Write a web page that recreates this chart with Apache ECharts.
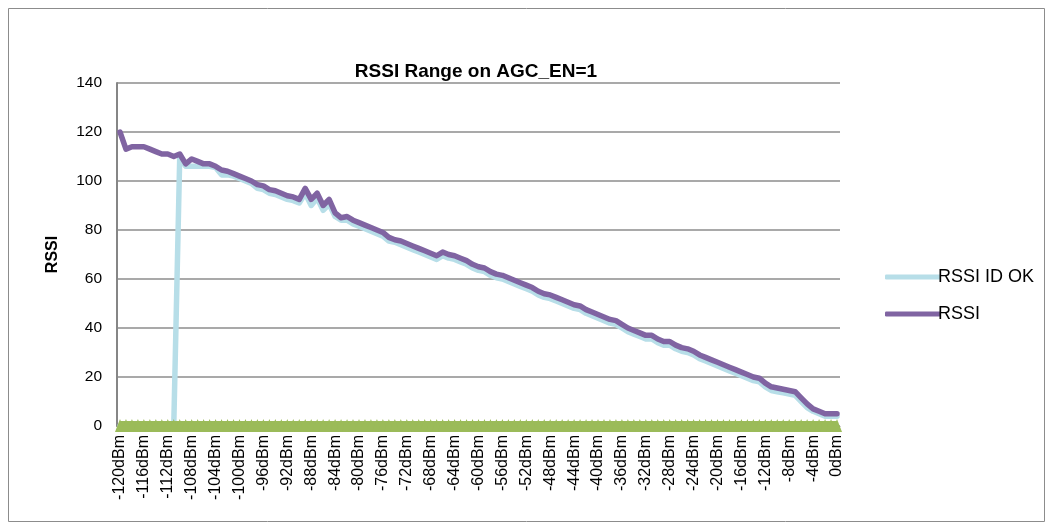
<!DOCTYPE html>
<html>
<head>
<meta charset="utf-8">
<script src="https://cdn.jsdelivr.net/npm/echarts@6/dist/echarts.min.js"></script>
<style>
  html, body { margin: 0; padding: 0; background: #ffffff; }
  #chart { width: 1051px; height: 529px; }
</style>
</head>
<body>
<div id="chart"></div>
<script>
const titleText = 'RSSI Range on AGC_EN=1';
const yAxisName = 'RSSI';
const seriesNames = ['RSSI ID OK', 'RSSI'];

const categories = [
  '-120dBm','-119dBm','-118dBm','-117dBm','-116dBm','-115dBm','-114dBm','-113dBm','-112dBm','-111dBm',
  '-110dBm','-109dBm','-108dBm','-107dBm','-106dBm','-105dBm','-104dBm','-103dBm','-102dBm','-101dBm',
  '-100dBm','-99dBm','-98dBm','-97dBm','-96dBm','-95dBm','-94dBm','-93dBm','-92dBm','-91dBm',
  '-90dBm','-89dBm','-88dBm','-87dBm','-86dBm','-85dBm','-84dBm','-83dBm','-82dBm','-81dBm',
  '-80dBm','-79dBm','-78dBm','-77dBm','-76dBm','-75dBm','-74dBm','-73dBm','-72dBm','-71dBm',
  '-70dBm','-69dBm','-68dBm','-67dBm','-66dBm','-65dBm','-64dBm','-63dBm','-62dBm','-61dBm',
  '-60dBm','-59dBm','-58dBm','-57dBm','-56dBm','-55dBm','-54dBm','-53dBm','-52dBm','-51dBm',
  '-50dBm','-49dBm','-48dBm','-47dBm','-46dBm','-45dBm','-44dBm','-43dBm','-42dBm','-41dBm',
  '-40dBm','-39dBm','-38dBm','-37dBm','-36dBm','-35dBm','-34dBm','-33dBm','-32dBm','-31dBm',
  '-30dBm','-29dBm','-28dBm','-27dBm','-26dBm','-25dBm','-24dBm','-23dBm','-22dBm','-21dBm',
  '-20dBm','-19dBm','-18dBm','-17dBm','-16dBm','-15dBm','-14dBm','-13dBm','-12dBm','-11dBm',
  '-10dBm','-9dBm','-8dBm','-7dBm','-6dBm','-5dBm','-4dBm','-3dBm','-2dBm','-1dBm',
  '0dBm'
];

const rssi = [
  120,113,114,114,114,113,112,111,111,110,
  111,107,109,108,107,107,106,104.5,104,103,
  102,101,100,98.5,98,96.5,96,95,94,93.5,
  92.5,97,92.5,95,90,92.5,87,85,85.5,84,
  83,82,81,80,79,77,76,75.5,74.5,73.5,
  72.5,71.5,70.5,69.5,71,70,69.5,68.5,67.5,66,
  65,64.5,63,62,61.5,60.5,59.5,58.5,57.5,56.5,
  55,54,53.5,52.5,51.5,50.5,49.5,49,47.5,46.5,
  45.5,44.5,43.5,43,41.5,40,39,38,37,37,
  35.5,34.5,34.5,33,32,31.5,30.5,29,28,27,
  26,25,24,23,22,21,20,19.5,17.5,16,
  15.5,15,14.5,14,11.5,9,7,6,5,5,
  5
];

const rssiIdOk = [
  0,0,0,0,0,0,0,0,0,0,
  110,106,106,106,106,106,105.5,102.5,102.5,102,
  101,100,99,97,96.5,95,94.5,93.5,92.5,92,
  91,95,90,93,88,90.5,85.5,84,84,82.5,
  81.5,80.5,79.5,78.5,77.5,75.5,75,74,73,72,
  71,70,69,68,69.5,68.5,68,67,66,64.5,
  63.5,63,61.5,60.5,60,59,58,57,56,55,
  53.5,52.5,52,51,50,49,48,47.5,46,45,
  44,43,42,41.5,40,38.5,37.5,36.5,35.5,35.5,
  34,33,33,31.5,30.5,30,29,27.5,26.5,25.5,
  24.5,23.5,22.5,21.5,20.5,19.5,18.5,18,16,14.5,
  14,13.5,13,12.5,10,7.5,6,5,4,4,
  4
];

const baseline = [
  0,0,0,0,0,0,0,0,0,0,
  0,0,0,0,0,0,0,0,0,0,
  0,0,0,0,0,0,0,0,0,0,
  0,0,0,0,0,0,0,0,0,0,
  0,0,0,0,0,0,0,0,0,0,
  0,0,0,0,0,0,0,0,0,0,
  0,0,0,0,0,0,0,0,0,0,
  0,0,0,0,0,0,0,0,0,0,
  0,0,0,0,0,0,0,0,0,0,
  0,0,0,0,0,0,0,0,0,0,
  0,0,0,0,0,0,0,0,0,0,
  0,0,0,0,0,0,0,0,0,0,
  0
];

const yMin = 0, yMax = 140, yInterval = 20;

const chart = echarts.init(document.getElementById('chart'), null, { renderer: 'canvas' });
const FONT = '"Liberation Sans", Arial, sans-serif';

chart.setOption({
  animation: false,
  backgroundColor: '#ffffff',
  textStyle: { fontFamily: FONT, color: '#000' },
  graphic: [{
    type: 'rect',
    shape: { x: 8.5, y: 8.5, width: 1036, height: 513 },
    style: { fill: 'none', stroke: '#8c8c8c', lineWidth: 1 },
    silent: true
  }],
  title: {
    text: titleText,
    left: 471, top: 57, textAlign: 'center',
    textStyle: { fontFamily: FONT, fontSize: 19, fontWeight: 'bold', color: '#000' }
  },
  legend: {
    data: seriesNames,
    orient: 'vertical',
    left: 880, top: 263,
    icon: 'roundRect',
    itemWidth: 56, itemHeight: 5,
    itemGap: 19,
    textStyle: { fontFamily: FONT, fontSize: 18, color: '#000', padding: [0, 0, 0, -8] }
  },
  grid: { left: 117, right: 211, top: 83, bottom: 103, containLabel: false },
  xAxis: {
    type: 'category',
    data: categories,
    boundaryGap: true,
    axisLine: { show: true, lineStyle: { color: '#868686', width: 1 } },
    axisTick: { show: false },
    axisLabel: {
      interval: 3, rotate: 90, margin: 9,
      fontFamily: FONT, fontSize: 16, color: '#000'
    }
  },
  yAxis: {
    type: 'value',
    min: yMin, max: yMax, interval: yInterval,
    name: yAxisName,
    nameLocation: 'middle', nameRotate: 90, nameGap: 56,
    nameTextStyle: { fontFamily: FONT, fontSize: 16, fontWeight: 'bold', color: '#000' },
    axisLine: { show: true, lineStyle: { color: '#868686', width: 2 } },
    axisTick: { show: false },
    axisLabel: { fontFamily: FONT, fontSize: 15.5, color: '#000', margin: 15 },
    splitLine: { show: true, lineStyle: { color: '#8c8c8c', width: 1.5 } }
  },
  series: [
    {
      name: seriesNames[0], type: 'line', data: rssiIdOk,
      showSymbol: false, symbol: 'none',
      itemStyle: { color: '#B7DEE8' },
      lineStyle: { color: '#B7DEE8', width: 5.5, cap: 'round', join: 'round' },
      z: 2
    },
    {
      name: seriesNames[1], type: 'line', data: rssi,
      showSymbol: false, symbol: 'none',
      itemStyle: { color: '#8064A2' },
      lineStyle: { color: '#8064A2', width: 5.5, cap: 'round', join: 'round' },
      z: 3
    },
    {
      name: 'baseline', type: 'line', data: baseline,
      clip: false,
      symbol: 'triangle', symbolSize: [10, 13], symbolOffset: [0, -0.5],
      showSymbol: true, showAllSymbol: true,
      itemStyle: { color: '#9BBB59' },
      lineStyle: { color: '#9BBB59', width: 10 },
      z: 4, silent: true
    }
  ]
});
</script>
</body>
</html>
